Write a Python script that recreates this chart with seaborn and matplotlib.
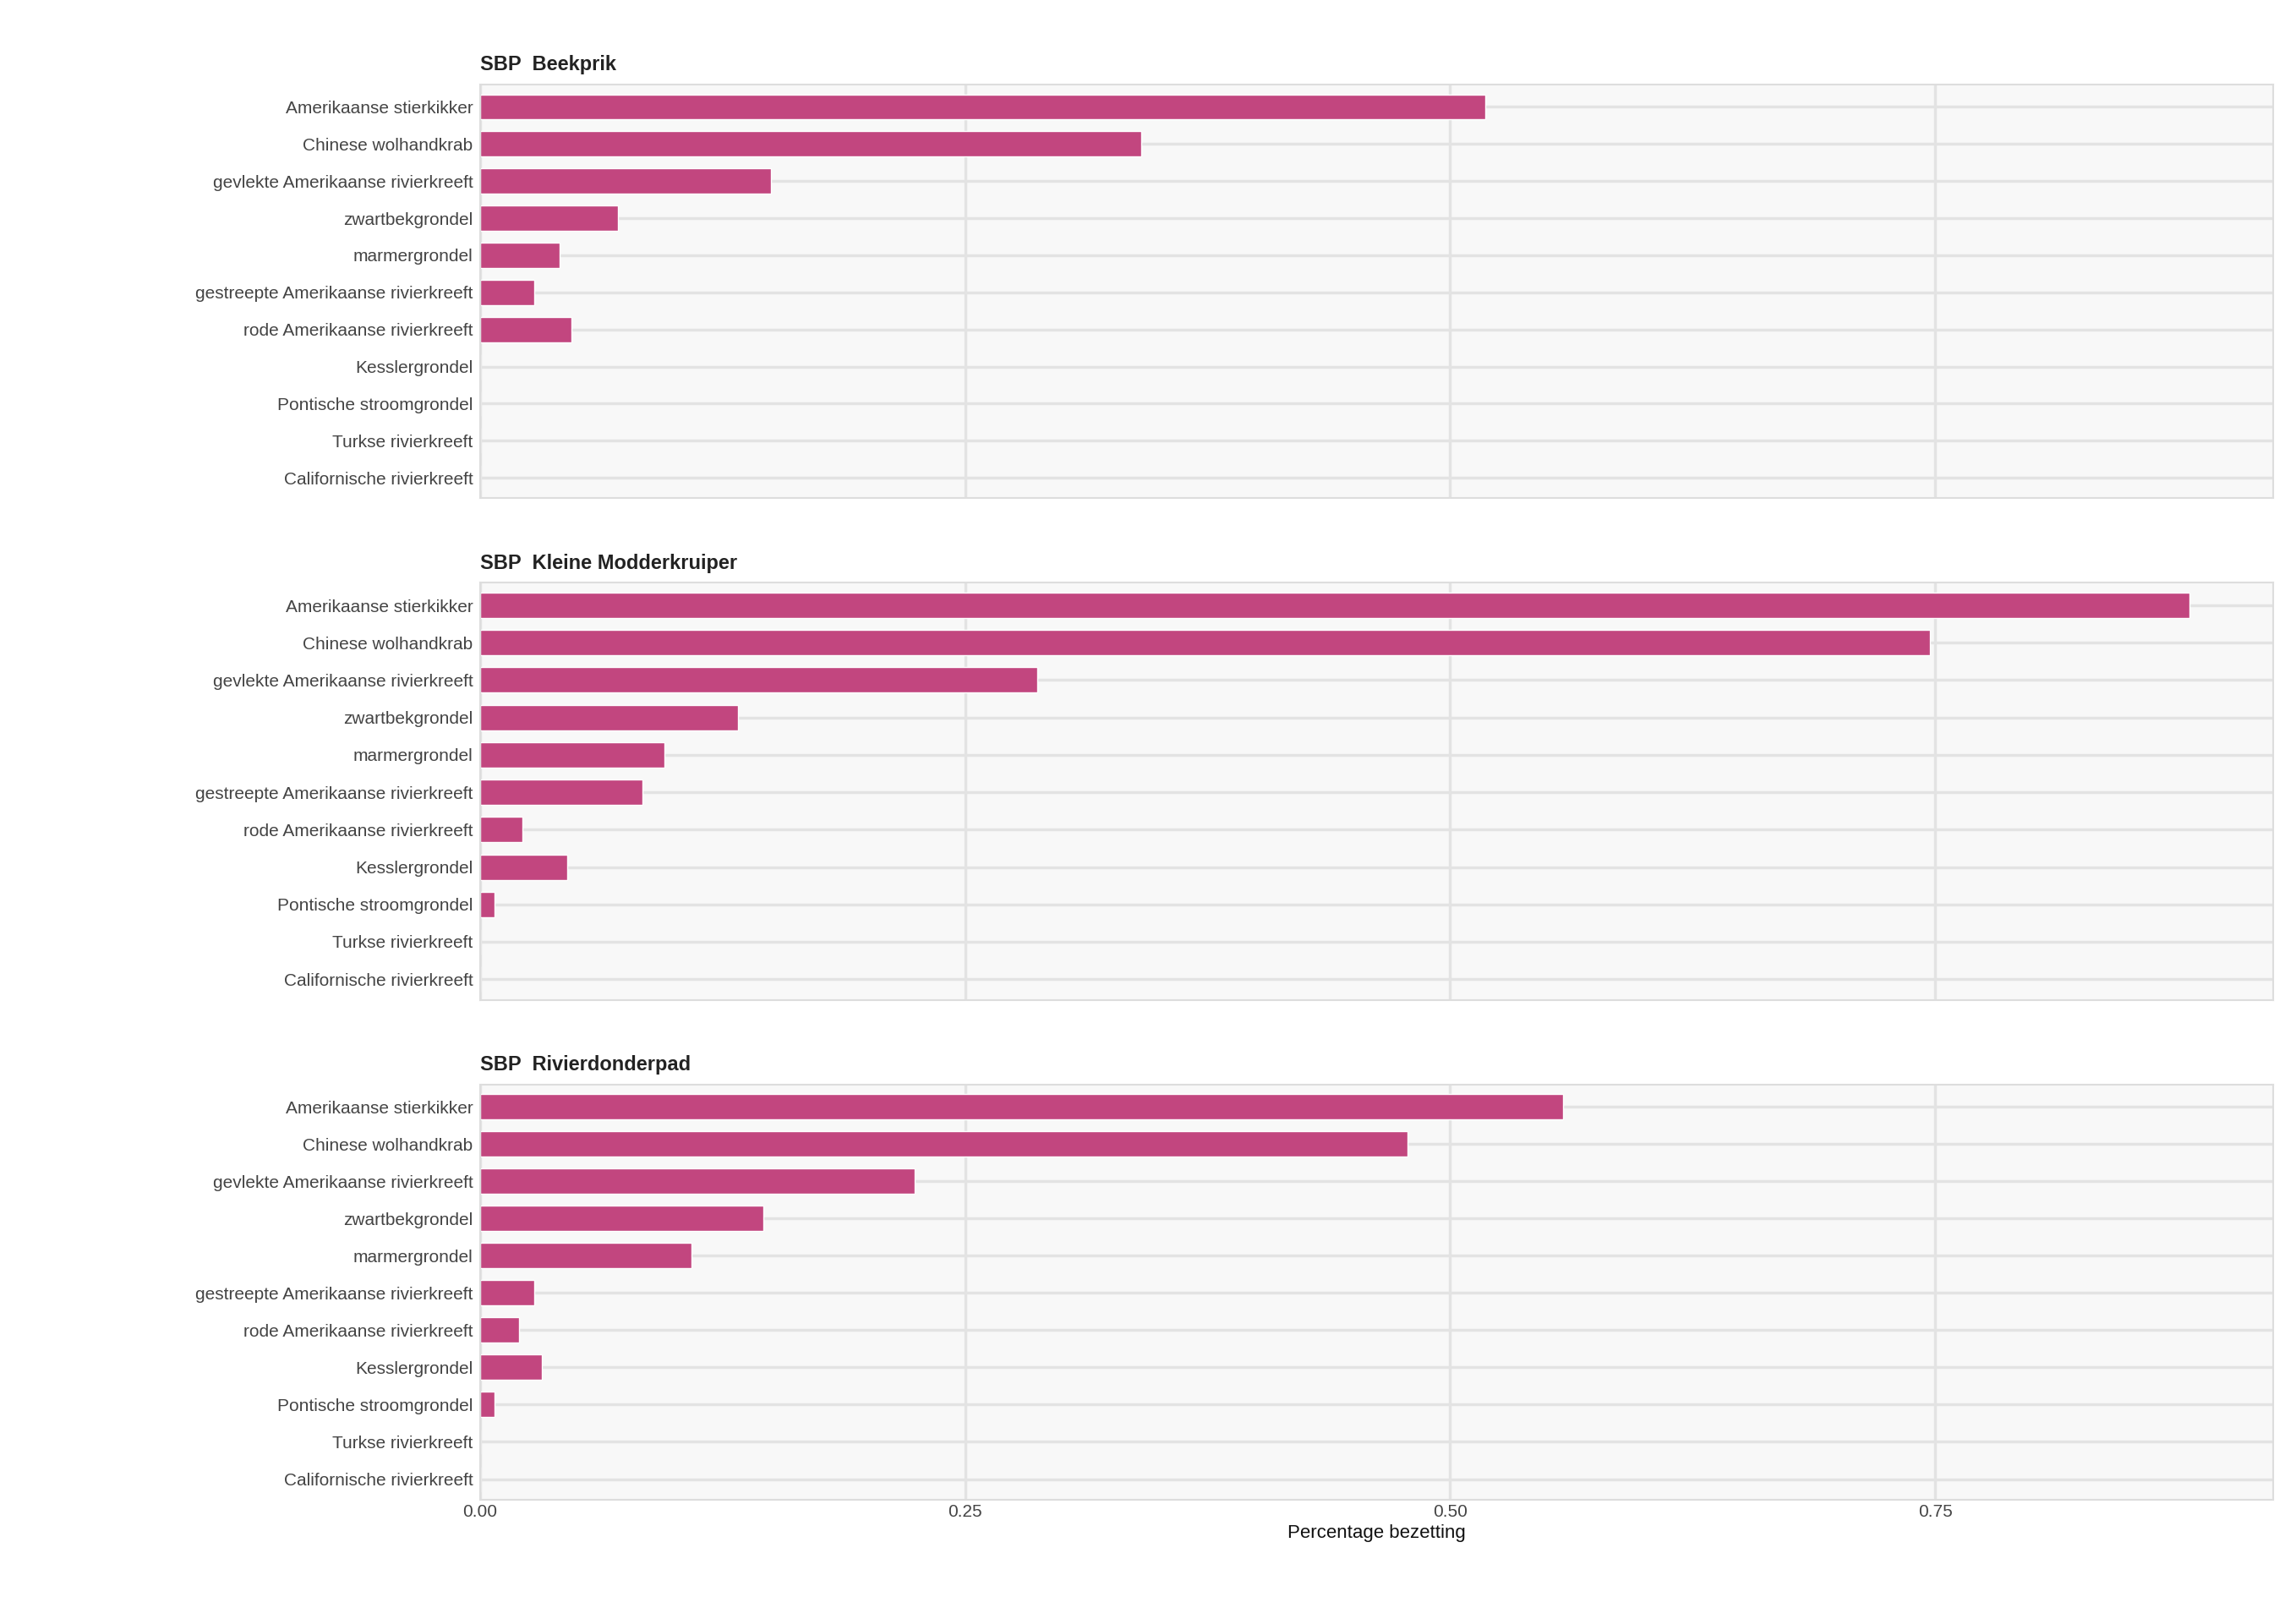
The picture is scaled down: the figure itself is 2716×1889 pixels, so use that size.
import matplotlib
matplotlib.use("Agg")
import matplotlib.pyplot as plt
import seaborn as sns
import pandas as pd

species = [
    "Amerikaanse stierkikker",
    "Chinese wolhandkrab",
    "gevlekte Amerikaanse rivierkreeft",
    "zwartbekgrondel",
    "marmergrondel",
    "gestreepte Amerikaanse rivierkreeft",
    "rode Amerikaanse rivierkreeft",
    "Kesslergrondel",
    "Pontische stroomgrondel",
    "Turkse rivierkreeft",
    "Californische rivierkreeft",
]
panels = ["SBP  Beekprik", "SBP  Kleine Modderkruiper", "SBP  Rivierdonderpad"]
beekprik = [0.518, 0.341, 0.150, 0.071, 0.041, 0.028, 0.047, 0, 0, 0, 0]
modderkruiper = [0.881, 0.747, 0.287, 0.133, 0.095, 0.084, 0.022, 0.045, 0.0075, 0, 0]
rivierdonderpad = [0.558, 0.478, 0.224, 0.146, 0.109, 0.028, 0.020, 0.032, 0.0075, 0, 0]

sns.set_theme(style="whitegrid")
plt.rcParams["font.family"] = ["Liberation Sans", "DejaVu Sans"]

fig = plt.figure(figsize=(27.16, 18.89), dpi=100)
boxes = [(0.947, 0.688), (0.635, 0.374), (0.321, 0.061)]
left, right = 0.209, 0.990

for i, (title, vals) in enumerate(zip(panels, [beekprik, modderkruiper, rivierdonderpad])):
    top, bottom = boxes[i]
    ax = fig.add_axes([left, bottom, right - left, top - bottom])
    df = pd.DataFrame({"soort": species, "waarde": vals})
    sns.barplot(data=df, x="waarde", y="soort", orient="h", color="#c2467f",
                saturation=1, width=0.68, ax=ax)
    ax.set_facecolor("#f8f8f8")
    for s in ax.spines.values():
        s.set_visible(True)
        s.set_color("#dddddd")
        s.set_linewidth(1.5)
    ax.set_xlim(0, 0.924)
    ax.set_ylim(len(species) - 0.45, -0.6)
    ax.set_xticks([0, 0.25, 0.5, 0.75])
    ax.grid(True, axis="both", color="#e3e3e3", linewidth=2.5)
    ax.set_axisbelow(True)
    ax.set_ylabel("")
    ax.tick_params(axis="y", labelsize=15, labelcolor="#444444", pad=6, length=0)
    ax.tick_params(axis="x", labelsize=15, labelcolor="#444444", length=0)
    ax.set_title(title, loc="left", fontsize=17, fontweight="bold", color="#222222", pad=12)
    if i < 2:
        ax.set_xticklabels([])
        ax.set_xlabel("")
    else:
        ax.set_xticklabels(["0.00", "0.25", "0.50", "0.75"])
        ax.set_xlabel("Percentage bezetting", fontsize=16, color="#111111")

fig.savefig("out.png", dpi=100)
